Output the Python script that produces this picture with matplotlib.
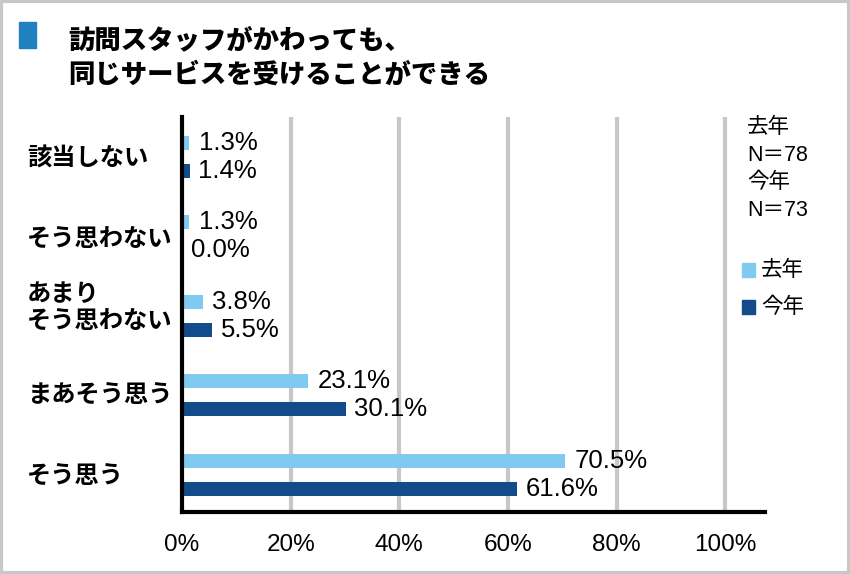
import matplotlib.pyplot as plt
from matplotlib.patches import Rectangle

# ── Data ──────────────────────────────────────────────────────────────────────
categories = ['該当しない', 'そう思わない', 'あまり\nそう思わない', 'まあそう思う', 'そう思う']
last_year = [1.3, 1.3, 3.8, 23.1, 70.5]
this_year = [1.4, 0.0, 5.5, 30.1, 61.6]
series_names = ['去年', '今年']
xticks = [0, 20, 40, 60, 80, 100]
title_lines = ['訪問スタッフがかわっても、', '同じサービスを受けることができる']
note_text = '去年\nN＝78\n今年\nN＝73'

LIGHT = '#80CAF2'
DARK = '#134C8A'
GRID = '#C8C8C8'
JP = ['Noto Sans CJK JP', 'DejaVu Sans']
NUM = ['Liberation Sans', 'Noto Sans CJK JP']

plt.rcParams['font.family'] = JP

fig = plt.figure(figsize=(8.5, 5.74), dpi=100)
ax = fig.add_axes([182 / 850, 1 - 512 / 574, 583 / 850, 395 / 574])

# ── Bars ──────────────────────────────────────────────────────────────────────
ypos = list(range(len(categories)))
off = 0.176
h = 0.176
ax.barh([y - off for y in ypos], last_year, height=h, color=LIGHT, zorder=3)
ax.barh([y + off for y in ypos], this_year, height=h, color=DARK, zorder=3)

for y, v in zip(ypos, last_year):
    ax.text(v + 1.8, y - off, f'{v:.1f}%', va='center', ha='left',
            fontsize=18.5, family=NUM)
for y, v in zip(ypos, this_year):
    ax.text(v + 1.6, y + off, f'{v:.1f}%', va='center', ha='left',
            fontsize=18.5, family=NUM)

ax.set_xlim(0, 107.3)
ax.set_ylim(4.465, -0.5)
ax.set_xticks(xticks)
ax.set_xticklabels([f'{t}%' for t in xticks], fontsize=17.5, family=NUM)
ax.tick_params(axis='x', length=0, pad=16)
ax.set_yticks([])
for t in xticks[1:]:
    ax.axvline(t, color=GRID, lw=3, zorder=1)

for s in ['top', 'right']:
    ax.spines[s].set_visible(False)
ax.spines['left'].set_linewidth(3)
ax.spines['bottom'].set_linewidth(3)
ax.spines['left'].set_zorder(4)

# category labels, left-aligned
label_y = [0.02, 0.04, -0.1, 0.0, 0.02]
for y, dy, c in zip(ypos, label_y, categories):
    ax.text(-155 / 583 * 107.3, y + dy, c, va='center', ha='left', fontsize=17.5,
            fontweight='bold', linespacing=1.2)

# ── Title ─────────────────────────────────────────────────────────────────────
fig.patches.append(Rectangle((19 / 850, 1 - 48 / 574), 17 / 850, 26 / 574,
                             transform=fig.transFigure, color='#2080C0'))
fig.text(68 / 850, 1 - 40 / 574, title_lines[0], fontsize=19, fontweight='heavy',
         va='center', ha='left')
fig.text(68 / 850, 1 - 74 / 574, title_lines[1], fontsize=19, fontweight='heavy',
         va='center', ha='left')

# ── Legend / notes ────────────────────────────────────────────────────────────
fig.text(747 / 850, 1 - 117 / 574, note_text, fontsize=15.5, va='top', ha='left',
         family=NUM, linespacing=1.42)
for i, (name, col) in enumerate(zip(series_names, [LIGHT, DARK])):
    yc = 1 - (270 + i * 37) / 574
    fig.patches.append(Rectangle((742 / 850, yc - 7 / 574), 13 / 850, 14 / 574,
                                 transform=fig.transFigure, color=col))
    fig.text(761 / 850, yc, name, fontsize=15.5, va='center', ha='left')

# outer frame
fig.patches.append(Rectangle((0.0015, 0.002), 0.997, 0.996, transform=fig.transFigure,
                             fill=False, edgecolor=GRID, lw=3))

fig.savefig('out.png', dpi=100)
